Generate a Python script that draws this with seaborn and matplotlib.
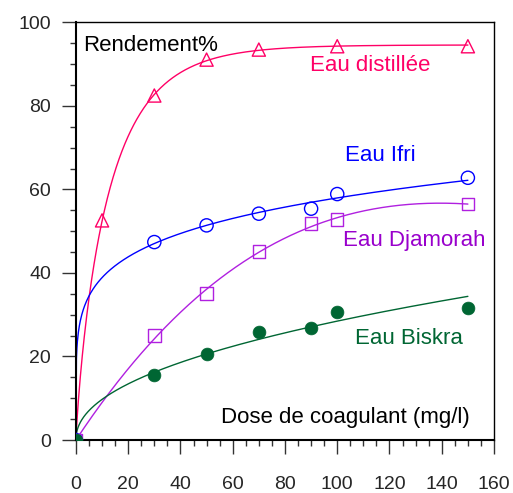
import numpy as np
import pandas as pd
import matplotlib
matplotlib.use("Agg")
import matplotlib.pyplot as plt
import seaborn as sns
from matplotlib.ticker import MultipleLocator

# ---- data ----
x_distillee = [0, 10, 30, 50, 70, 100, 150]
y_distillee = [0, 52.6, 82.5, 91.1, 93.5, 94.3, 94.3]

x_ifri = [0, 30, 50, 70, 90, 100, 150]
y_ifri = [0, 47.4, 51.4, 54.2, 55.4, 58.9, 62.8]

x_djamorah = [0, 30, 50, 70, 90, 100, 150]
y_djamorah = [0, 25.0, 35.1, 45.1, 51.8, 52.8, 56.5]

x_biskra = [0, 30, 50, 70, 90, 100, 150]
y_biskra = [0, 15.5, 20.6, 25.8, 26.8, 30.6, 31.7]

x_ticks = [0, 20, 40, 60, 80, 100, 120, 140, 160]
y_ticks = [0, 20, 40, 60, 80, 100]

c_dist = "#FF0066"
c_ifri = "#0000FF"
c_djam = "#B020E0"
c_djam_txt = "#9900CC"
c_bisk = "#006633"

sns.set_style("ticks")
plt.rcParams['font.family'] = ['Liberation Sans', 'DejaVu Sans']

fig = plt.figure(figsize=(5.13, 4.93), dpi=100)
ax = fig.add_axes([0.148, 0.1075, 0.815, 0.847])

xs = np.linspace(0, 150, 800)

# fitted trend curves (least-squares fits of the read data)
# distillée: saturation curve a(1-exp(-(k x)^c))
xd = np.array(x_distillee, float); yd = np.array(y_distillee, float)
best = None
for c in np.linspace(0.6, 1.2, 61):
    for k in np.linspace(0.02, 0.2, 181):
        f = 1 - np.exp(-(k * xd) ** c)
        a = (f @ yd) / (f @ f)
        err = np.sum((a * f - yd) ** 2)
        if best is None or err < best[0]:
            best = (err, a, k, c)
_, a_d, k_d, c_d = best
curve_d = a_d * (1 - np.exp(-(k_d * xs) ** c_d))

def power_fit(xv, yv):
    xv = np.array(xv[1:], float); yv = np.array(yv[1:], float)
    b, la = np.polyfit(np.log(xv), np.log(yv), 1)
    return np.exp(la), b

a_i, b_i = power_fit(x_ifri, y_ifri)
curve_i = a_i * xs ** b_i
a_b, b_b = power_fit(x_biskra, y_biskra)
curve_b = a_b * xs ** b_b

# djamorah: cubic through the origin
xj = np.array(x_djamorah, float); yj = np.array(y_djamorah, float)
A = np.vstack([xj, xj ** 2, xj ** 3]).T
coef, *_ = np.linalg.lstsq(A, yj, rcond=None)
curve_j = coef[0] * xs + coef[1] * xs ** 2 + coef[2] * xs ** 3

lw = 1.0
sns.lineplot(x=xs, y=curve_d, ax=ax, color=c_dist, lw=lw)
sns.lineplot(x=xs, y=curve_i, ax=ax, color=c_ifri, lw=lw)
sns.lineplot(x=xs, y=curve_j, ax=ax, color=c_djam, lw=lw)
sns.lineplot(x=xs, y=curve_b, ax=ax, color=c_bisk, lw=lw)

sns.scatterplot(x=x_distillee, y=y_distillee, ax=ax, marker="^", s=90,
                facecolor="none", edgecolor=c_dist, linewidth=1.0, zorder=5)
sns.scatterplot(x=x_ifri, y=y_ifri, ax=ax, marker="o", s=90,
                facecolor="none", edgecolor=c_ifri, linewidth=1.0, zorder=5)
sns.scatterplot(x=x_djamorah, y=y_djamorah, ax=ax, marker="s", s=80,
                facecolor="none", edgecolor=c_djam, linewidth=1.0, zorder=5)
sns.scatterplot(x=x_biskra, y=y_biskra, ax=ax, marker="o", s=85,
                color=c_bisk, edgecolor=c_bisk, linewidth=0.5, zorder=6)

ax.set_xlim(0, 160)
ax.set_ylim(0, 100)
ax.set_xticks(x_ticks)
ax.set_yticks(y_ticks)
ax.xaxis.set_minor_locator(MultipleLocator(5))
ax.yaxis.set_minor_locator(MultipleLocator(5))
ax.tick_params(axis='both', which='major', direction='out', length=10, width=1,
               labelsize=14, color='#333333')
ax.tick_params(axis='both', which='minor', direction='out', length=4.5, width=1,
               color='#333333')
ax.tick_params(axis='x', which='major', pad=16)
ax.tick_params(axis='y', which='major', pad=8)
for s in ax.spines.values():
    s.set_linewidth(1.0)
    s.set_color('black')
ax.spines['left'].set_linewidth(1.5)
ax.spines['bottom'].set_linewidth(1.5)
ax.set_xlabel("")
ax.set_ylabel("")

fs = 16
ax.text(2.7, 94.5, "Rendement%", color="black", fontsize=fs, va="center", ha="left")
ax.text(89.6, 89.7, "Eau distillée", color=c_dist, fontsize=fs, va="center", ha="left")
ax.text(103, 68.2, "Eau Ifri", color=c_ifri, fontsize=fs, va="center", ha="left")
ax.text(102.2, 47.8, "Eau Djamorah", color=c_djam_txt, fontsize=fs, va="center", ha="left")
ax.text(106.8, 24.4, "Eau Biskra", color=c_bisk, fontsize=fs, va="center", ha="left")
ax.text(55.5, 5.5, "Dose de coagulant (mg/l)", color="black", fontsize=fs, va="center", ha="left")

fig.savefig("out.png", dpi=100)
